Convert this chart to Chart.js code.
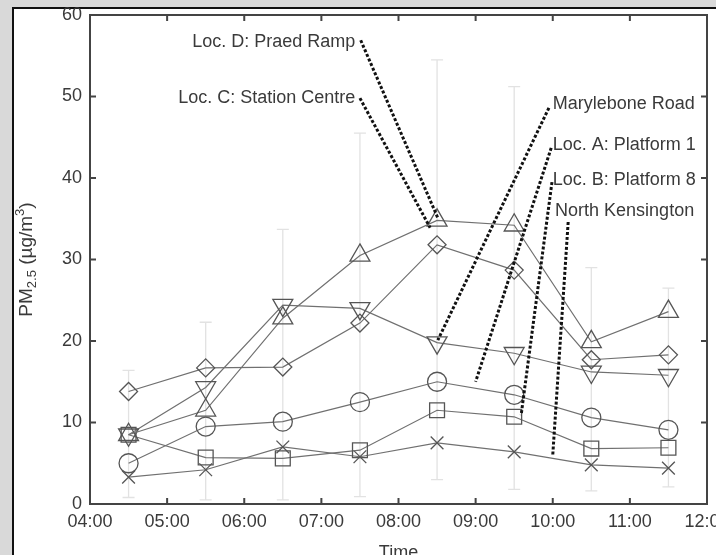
<!DOCTYPE html>
<html lang="en">
<head>
<meta charset="UTF-8">
<title>PM2.5 by time of day</title>
<script src="https://cdn.jsdelivr.net/npm/chart.js"></script>
<style>
  html, body { margin: 0; padding: 0; background: #d9d9d9; overflow: hidden; }
  #panel { position: absolute; left: 12px; top: 7px; width: 720px; height: 560px;
           background: #fff; border-top: 2px solid #111; border-left: 2px solid #111; }
  #chart { position: absolute; left: 0; top: 0; }
</style>
</head>
<body>
<div id="panel"></div>
<canvas id="chart" width="716" height="555"></canvas>
<script>
// sample times (hours) and axis tick labels
const times = [4.5, 5.5, 6.5, 7.5, 8.5, 9.5, 10.5, 11.5];
const xTickLabels = ['04:00', '05:00', '06:00', '07:00', '08:00', '09:00', '10:00', '11:00', '12:00'];
const yTickValues = [0, 10, 20, 30, 40, 50, 60];

// PM2.5 means (ug/m3) per site
const praedRamp     = [8.5, 11.5, 22.8, 30.5, 34.8, 34.2, 19.9, 23.6];
const stationCentre = [13.8, 16.7, 16.8, 22.2, 31.8, 28.7, 17.7, 18.3];
const marylebone    = [8.5, 14.3, 24.4, 24.0, 19.8, 18.5, 16.2, 15.8];
const platform1     = [5.0, 9.5, 10.1, 12.5, 15.0, 13.4, 10.6, 9.1];
const platform8     = [8.5, 5.7, 5.6, 6.6, 11.5, 10.7, 6.8, 6.9];
const northKens     = [3.3, 4.2, 7.0, 5.8, 7.5, 6.4, 4.8, 4.4];

// faint error bar span at each time
const errTop    = [16.4, 22.3, 33.7, 45.5, 54.5, 51.2, 29.0, 26.5];
const errBottom = [0.8, 0.5, 0.5, 0.9, 3.0, 1.8, 1.6, 2.1];

// callout labels: text, label anchor (h, v), leader start and end (h, v)
const callouts = [
  { text: 'Loc. D: Praed Ramp',     align: 'right', at: [7.44, 56.7], from: [7.51, 56.9], to: [8.51, 35.1] },
  { text: 'Loc. C: Station Centre', align: 'right', at: [7.44, 49.8], from: [7.50, 49.8], to: [8.41, 33.9] },
  { text: 'Marylebone Road',        align: 'left',  at: [10.00, 49.1], from: [9.95, 48.6], to: [8.51, 20.1] },
  { text: 'Loc. A: Platform 1',     align: 'left',  at: [10.00, 44.0], from: [9.98, 43.7], to: [9.00, 15.0] },
  { text: 'Loc. B: Platform 8',     align: 'left',  at: [10.00, 39.75], from: [9.99, 39.5], to: [9.59, 10.9] },
  { text: 'North Kensington',       align: 'left',  at: [10.03, 35.95], from: [10.20, 34.6], to: [10.00, 6.0] }
];

const FONT = "'Liberation Sans', Arial, sans-serif";
const TEXT = '#3a3a3a';

const series = [
  { label: 'Loc. D: Praed Ramp', values: praedRamp, style: 'triangle', rot: 0, r: 11.5 },
  { label: 'Loc. C: Station Centre', values: stationCentre, style: 'rectRot', rot: 0, r: 9 },
  { label: 'Marylebone Road', values: marylebone, style: 'triangle', rot: 180, r: 11.5 },
  { label: 'Loc. A: Platform 1', values: platform1, style: 'circle', rot: 0, r: 9.5 },
  { label: 'Loc. B: Platform 8', values: platform8, style: 'rect', rot: 0, r: 10.5 },
  { label: 'North Kensington', values: northKens, style: 'crossRot', rot: 0, r: 9 }
];

const errorBars = {
  id: 'errorBars',
  beforeDatasetsDraw(chart) {
    const { ctx, scales: { x, y } } = chart;
    ctx.save();
    ctx.strokeStyle = '#e2e2e2';
    ctx.lineWidth = 1.3;
    times.forEach((t, i) => {
      const px = x.getPixelForValue(t);
      const top = y.getPixelForValue(errTop[i]);
      const bot = y.getPixelForValue(errBottom[i]);
      ctx.beginPath();
      ctx.moveTo(px, top); ctx.lineTo(px, bot);
      ctx.moveTo(px - 6, top); ctx.lineTo(px + 6, top);
      ctx.moveTo(px - 6, bot); ctx.lineTo(px + 6, bot);
      ctx.stroke();
    });
    ctx.restore();
  }
};

const frame = {
  id: 'frame',
  afterDatasetsDraw(chart) {
    const { ctx, chartArea: a, scales: { x, y } } = chart;
    ctx.save();
    ctx.strokeStyle = '#444';
    ctx.lineWidth = 2;
    ctx.strokeRect(a.left, a.top, a.right - a.left, a.bottom - a.top);
    ctx.beginPath();
    for (let h = 5; h <= 11; h++) {
      const px = x.getPixelForValue(h);
      ctx.moveTo(px, a.bottom); ctx.lineTo(px, a.bottom - 6);
      ctx.moveTo(px, a.top); ctx.lineTo(px, a.top + 6);
    }
    yTickValues.slice(1, -1).forEach(v => {
      const py = y.getPixelForValue(v);
      ctx.moveTo(a.left, py); ctx.lineTo(a.left + 6, py);
      ctx.moveTo(a.right, py); ctx.lineTo(a.right - 6, py);
    });
    ctx.stroke();

    // callouts
    ctx.strokeStyle = '#111';
    ctx.lineWidth = 3;
    ctx.setLineDash([3, 2]);
    callouts.forEach(c => {
      ctx.beginPath();
      ctx.moveTo(x.getPixelForValue(c.from[0]), y.getPixelForValue(c.from[1]));
      ctx.lineTo(x.getPixelForValue(c.to[0]), y.getPixelForValue(c.to[1]));
      ctx.stroke();
    });
    ctx.setLineDash([]);
    ctx.fillStyle = TEXT;
    ctx.font = '18px ' + FONT;
    ctx.textBaseline = 'middle';
    callouts.forEach(c => {
      ctx.textAlign = c.align;
      ctx.fillText(c.text, x.getPixelForValue(c.at[0]), y.getPixelForValue(c.at[1]));
    });

    // axis titles
    ctx.textAlign = 'center';
    ctx.fillText('Time', (a.left + a.right) / 2, 553);

    ctx.translate(32, (a.top + a.bottom) / 2);
    ctx.rotate(-Math.PI / 2);
    const parts = [
      { s: 'PM', size: 19, dy: 0 },
      { s: '2.5', size: 13, dy: 4 },
      { s: ' (\u00b5g/m', size: 19, dy: 0 },
      { s: '3', size: 13, dy: -8 },
      { s: ')', size: 19, dy: 0 }
    ];
    let total = 0;
    parts.forEach(p => { ctx.font = p.size + 'px ' + FONT; p.w = ctx.measureText(p.s).width; total += p.w; });
    let cx = -total / 2;
    ctx.textAlign = 'left';
    ctx.textBaseline = 'alphabetic';
    parts.forEach(p => {
      ctx.font = p.size + 'px ' + FONT;
      ctx.fillText(p.s, cx, p.dy);
      cx += p.w;
    });
    ctx.restore();
  }
};

new Chart(document.getElementById('chart'), {
  type: 'line',
  data: {
    datasets: series.map(s => ({
      label: s.label,
      data: times.map((t, i) => ({ x: t, y: s.values[i] })),
      borderColor: '#707070',
      borderWidth: 1.2,
      pointStyle: s.style,
      pointRotation: s.rot,
      pointRadius: s.r,
      pointBorderColor: '#555',
      pointBorderWidth: 1.3,
      pointBackgroundColor: 'rgba(0,0,0,0)',
      tension: 0,
      fill: false
    }))
  },
  options: {
    responsive: false,
    animation: false,
    devicePixelRatio: 1,
    layout: { autoPadding: false, padding: { left: 0, top: 15, right: 9, bottom: 0 } },
    plugins: { legend: { display: false }, tooltip: { enabled: false } },
    scales: {
      x: {
        type: 'linear', min: 4, max: 12,
        grid: { display: false, drawTicks: false, tickLength: 0 }, border: { display: false },
        ticks: {
          stepSize: 1, autoSkip: false, maxRotation: 0, padding: 7,
          color: TEXT, font: { family: FONT, size: 18 },
          callback: v => xTickLabels[v - 4]
        },
        afterFit: s => { s.height = 51; s.paddingLeft = 0; s.paddingRight = 0; }
      },
      y: {
        min: 0, max: 60,
        grid: { display: false, drawTicks: false, tickLength: 0 }, border: { display: false },
        ticks: {
          stepSize: 10, padding: 8,
          color: TEXT, font: { family: FONT, size: 18 }
        },
        afterFit: s => { s.width = 90; s.paddingTop = 0; s.paddingBottom = 0; }
      }
    }
  },
  plugins: [errorBars, frame]
});
</script>
</body>
</html>
